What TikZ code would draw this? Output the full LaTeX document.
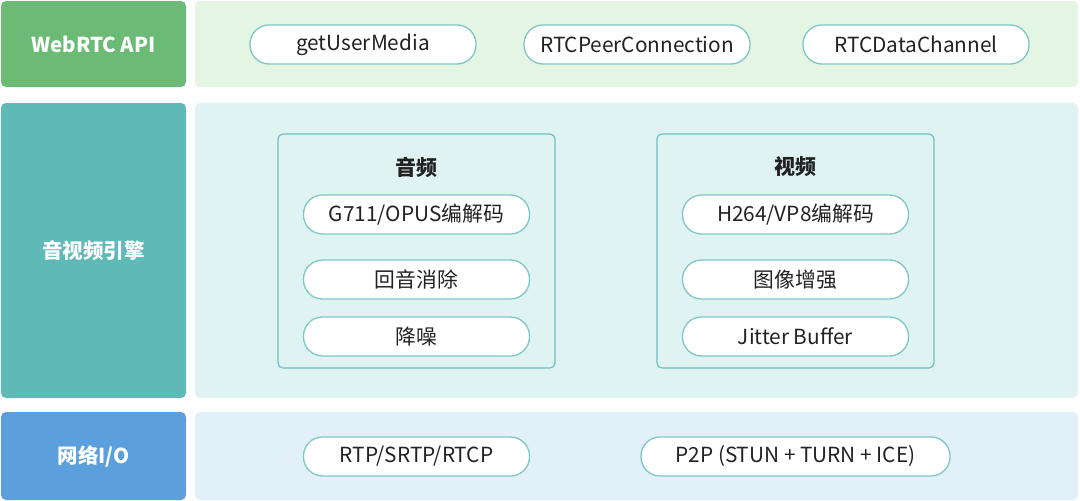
\documentclass[tikz,border=0pt]{standalone}
\usepackage{fontspec}
\setmainfont{Noto Sans CJK SC}
\definecolor{gA}{HTML}{6BBB77}
\definecolor{gB}{HTML}{E4F5E4}
\definecolor{tA}{HTML}{5FB9B7}
\definecolor{tB}{HTML}{DFF4F2}
\definecolor{bA}{HTML}{5B9FDC}
\definecolor{bB}{HTML}{E1F0F9}
\definecolor{pillline}{HTML}{7DC8C5}
\definecolor{boxline}{HTML}{6CC1BD}
\definecolor{txt}{HTML}{222222}
\tikzset{
  lab/.style={rounded corners=5pt, inner sep=0pt, text=white, font=\fontsize{20.5}{22}\selectfont\bfseries, minimum width=185pt},
  panel/.style={rounded corners=5pt, inner sep=0pt, minimum width=883pt},
  pill/.style={draw=pillline, line width=1.3pt, fill=white, rounded corners=19pt, minimum width=226pt, minimum height=39pt, inner sep=0pt, text=txt, font=\fontsize{20.8}{22}\selectfont},
  grp/.style={draw=boxline, line width=1.2pt, rounded corners=5pt, minimum width=277pt, minimum height=234pt, inner sep=0pt},
  ttl/.style={text=txt, font=\fontsize{21}{22}\selectfont\bfseries, inner sep=0pt}
}
\begin{document}
\begin{tikzpicture}[x=1pt,y=-1pt]
\useasboundingbox (0,0) rectangle (1080,501);
\fill[white] (0,0) rectangle (1080,501);
% row 1
\node[lab, fill=gA, minimum height=86pt] (l1) at (93.5,44) {WebRTC API};
\node[panel, fill=gB, minimum height=86pt] (p1) at (636.5,44) {};
\node[pill] (gum) at (363,44.5) {getUserMedia};
\node[pill] (pc) at (637,44.5) {RTCPeerConnection};
\node[pill] (dc) at (916,44.5) {RTCDataChannel};
% row 2
\node[lab, fill=tA, minimum height=295pt] (l2) at (93.5,250.5) {音视频引擎};
\node[panel, fill=tB, minimum height=295pt] (p2) at (636.5,250.5) {};
\node[grp] (audio) at (416.5,251) {};
\node[grp] (video) at (795.5,251) {};
\node[ttl] (at) at (416.5,167) {音频};
\node[ttl] (vt) at (795.5,167) {视频};
\node[pill] (a1) at (416.5,214.5) {G711/OPUS编解码};
\node[pill] (a2) at (416.5,279.5) {回音消除};
\node[pill] (a3) at (416.5,336.5) {降噪};
\node[pill] (v1) at (795.5,214.5) {H264/VP8编解码};
\node[pill] (v2) at (795.5,279.5) {图像增强};
\node[pill] (v3) at (795.5,336.5) {Jitter Buffer};
% row 3
\node[lab, fill=bA, minimum height=88pt] (l3) at (93.5,456) {网络I/O};
\node[panel, fill=bB, minimum height=88pt] (p3) at (636.5,456) {};
\node[pill] (rtp) at (416.5,456.5) {RTP/SRTP/RTCP};
\node[pill, minimum width=309pt] (p2p) at (795.5,456.5) {P2P (STUN + TURN + ICE)};
\end{tikzpicture}
\end{document}
